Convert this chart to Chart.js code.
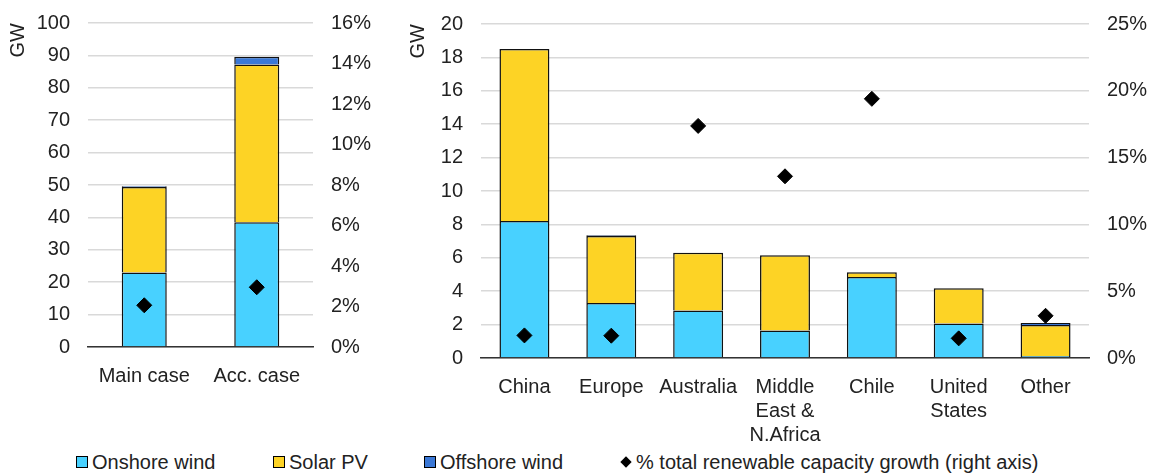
<!DOCTYPE html>
<html lang="en">
<head>
    <meta charset="UTF-8">
    <title>Wind and solar capacity growth</title>
    <style>
        body {
            margin: 0;
            background: #fff;
            font-family: "Liberation Sans", Arial, sans-serif;
            color: #222;
        }
        .wrap {
            position: relative;
            width: 1153px;
            height: 474px;
        }
        .chart-box {
            position: absolute;
            top: 0;
            height: 447px;
        }
        #leftBox { left: 0; width: 400px; }
        #rightBox { left: 400px; width: 753px; }
        .legend {
            position: absolute;
            top: 450px;
            left: 0;
            width: 1153px;
            height: 24px;
            font-size: 20px;
            line-height: 24px;
        }
        .legend span.item {
            position: absolute;
            top: 0;
            white-space: nowrap;
        }
        .swatch {
            display: inline-block;
            width: 10px;
            height: 10px;
            border: 1px solid #000;
            margin-right: 4px;
            vertical-align: 1px;
        }
        .diamond {
            display: inline-block;
            width: 8px;
            height: 8px;
            background: #000;
            transform: rotate(45deg);
            margin: 0 6px 0 2px;
            vertical-align: 3px;
        }
    </style>
</head>
<body>
    <div class="wrap">
        <div class="chart-box" id="leftBox"><canvas id="leftChart"></canvas></div>
        <div class="chart-box" id="rightBox"><canvas id="rightChart"></canvas></div>
        <div class="legend">
            <span class="item" style="left:76px"><span class="swatch" style="background:#48D1FF"></span>Onshore wind</span>
            <span class="item" style="left:273px"><span class="swatch" style="background:#FDD325"></span>Solar PV</span>
            <span class="item" style="left:424px"><span class="swatch" style="background:#3B78D6"></span>Offshore wind</span>
            <span class="item" style="left:620px"><span class="diamond"></span>% total renewable capacity growth (right axis)</span>
        </div>
    </div>

    <script src="https://cdn.jsdelivr.net/npm/chart.js"></script>
    <script>
        // left panel: global totals
        const caseLabels = ['Main case', 'Acc. case'];
        const caseOnshore = [23, 38.5];
        const caseSolar = [26.4, 48.7];
        const caseOffshore = [0.2, 2.4];
        const caseShare = [2.06, 2.95];

        // right panel: by region
        const regionLabels = ['China', 'Europe', 'Australia', ['Middle', 'East &', 'N.Africa'], 'Chile', ['United', 'States'], 'Other'];
        const regionOnshore = [8.2, 3.3, 2.85, 1.65, 4.85, 2.07, 0.12];
        const regionSolar = [10.3, 4.0, 3.45, 4.5, 0.28, 2.1, 1.85];
        const regionOffshore = [0, 0.05, 0, 0, 0, 0, 0.12];
        const regionShare = [1.69, 1.67, 17.37, 13.6, 19.4, 1.47, 3.16];

        const FONT = { family: '"Liberation Sans", Arial, sans-serif', size: 20 };
        const TEXT = '#222';

        // fixed axis box sizes so both panels line up with the original
        function fixWidth(w) {
            return s => {
                s.width = w;
                s.paddingTop = 0;
                s.paddingBottom = 0;
            };
        }

        function buildConfig(o) {
            const bar = (label, data, color) => ({
                type: 'bar', label, data,
                backgroundColor: color,
                borderColor: '#111',
                borderWidth: 1.5,
                barPercentage: o.barPct,
                categoryPercentage: 1,
                yAxisID: 'y',
                order: 2
            });
            return {
                data: {
                    labels: o.labels,
                    datasets: [
                        {
                            type: 'line', label: '% total renewable capacity growth (right axis)',
                            data: o.share, yAxisID: 'y1', showLine: false,
                            pointStyle: 'rectRot', pointRadius: 7.5,
                            pointBackgroundColor: '#000', pointBorderColor: '#000',
                            order: 0
                        },
                        bar('Onshore wind', o.onshore, '#48D1FF'),
                        bar('Solar PV', o.solar, '#FDD325'),
                        bar('Offshore wind', o.offshore, '#3B78D6')
                    ]
                },
                options: {
                    responsive: true,
                    maintainAspectRatio: false,
                    animation: false,
                    layout: { padding: { top: o.top, left: 0, right: 0, bottom: 0 } },
                    plugins: { legend: { display: false }, tooltip: { enabled: false } },
                    scales: {
                        x: {
                            stacked: true,
                            grid: { display: false },
                            border: { color: '#333', width: 1.5 },
                            ticks: { color: TEXT, font: FONT, padding: 9, maxRotation: 0, autoSkip: false },
                            afterFit: s => { s.height = o.xHeight; }
                        },
                        y: {
                            stacked: true,
                            min: 0, max: o.yMax,
                            ticks: { stepSize: o.yStep, color: TEXT, font: FONT, padding: 18 },
                            grid: { color: '#d9d9d9', lineWidth: 1.5, drawTicks: false },
                            border: { display: false },
                            title: { display: true, text: 'GW', align: 'end', color: TEXT, font: FONT, padding: { top: 6, bottom: 0 } },
                            afterFit: fixWidth(o.yWidth)
                        },
                        y1: {
                            position: 'right',
                            min: 0, max: o.y1Max,
                            ticks: { stepSize: o.y1Step, color: TEXT, font: FONT, padding: 18, callback: v => v + '%' },
                            grid: { display: false, drawTicks: false },
                            border: { display: false },
                            afterFit: fixWidth(o.y1Width)
                        }
                    }
                }
            };
        }

        new Chart(document.getElementById('leftChart'), buildConfig({
            labels: caseLabels, onshore: caseOnshore, solar: caseSolar, offshore: caseOffshore, share: caseShare,
            barPct: 0.4, top: 23, xHeight: 100, yWidth: 88, y1Width: 87,
            yMax: 100, yStep: 10, y1Max: 16, y1Step: 2
        }));

        new Chart(document.getElementById('rightChart'), buildConfig({
            labels: regionLabels, onshore: regionOnshore, solar: regionSolar, offshore: regionOffshore, share: regionShare,
            barPct: 0.575, top: 24, xHeight: 89, yWidth: 81, y1Width: 64,
            yMax: 20, yStep: 2, y1Max: 25, y1Step: 5
        }));
    </script>
</body>
</html>
